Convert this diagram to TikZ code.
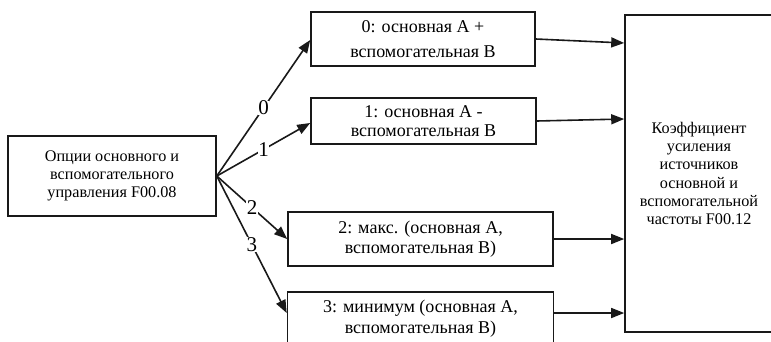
\documentclass[tikz,border=0pt]{standalone}
\usepackage{fontspec}
\setmainfont{Liberation Serif}
\usetikzlibrary{arrows.meta,calc}
\begin{document}
\begin{tikzpicture}[x=1pt,y=-1pt,
  blk/.style={draw=black!90,line width=1.6pt,align=center,inner sep=0pt,
    font=\fontsize{18}{18.3}\selectfont},
  sideblk/.style={blk,font=\fontsize{16.2}{18.3}\selectfont},
  link/.style={draw=black!90,line width=1.6pt,-{Triangle[length=13pt,width=10pt]}},
  lbl/.style={fill=white,inner sep=0.4pt,font=\fontsize{21}{22}\selectfont}]
\useasboundingbox (0,0) rectangle (771,341);
\clip (0,0) rectangle (771,341);

% source and result blocks
\node[sideblk,minimum width=208pt,minimum height=80pt] (src) at (112,176)
  {Опции основного и\\вспомогательного\\управления F00.08};
\node[sideblk,minimum width=148pt,minimum height=317pt] (gain) at (699,173.5)
  {Коэффициент\\усиления\\источников\\основной и\\вспомогательной\\частоты F00.12};

% the four combination modes
\node[blk,minimum width=224pt,minimum height=54pt] (b0) at (423,39)
  {0: основная А +\\[6.5pt]вспомогательная В};
\node[blk,minimum width=225pt,minimum height=46pt] (b1) at (423.5,121)
  {1: основная А -\\вспомогательная В};
\node[blk,minimum width=265pt,minimum height=54pt] (b2) at (420.5,239)
  {2: макс. (основная А,\\[1.5pt]вспомогательная В)};
\node[blk,minimum width=266pt,minimum height=54pt] (b3) at (420.5,319)
  {3: минимум (основная А,\\[2.5pt]вспомогательная В)};

% selection arrows
\draw[link] (src.east) -- node[lbl,pos=0.5]{0} ([yshift=-1pt]b0.west);
\draw[link] (src.east) -- node[lbl,pos=0.5]{1} ([yshift=-2pt]b1.west);
\draw[link] (src.east) -- node[lbl,pos=0.5]{2} (b2.west);
\draw[link] (src.east) -- node[lbl,pos=0.5]{3} ([yshift=6pt]b3.west);

% outputs into the gain block
\draw[link] (b0.east) -- ([yshift=-4pt]b0.east -| gain.west);
\draw[link] (b1.east) -- ([yshift=2pt]b1.east -| gain.west);
\draw[link] (b2.east) -- (b2.east -| gain.west);
\draw[link] ([yshift=6pt]b3.east) -- ([yshift=6pt]b3.east -| gain.west);
\end{tikzpicture}
\end{document}
